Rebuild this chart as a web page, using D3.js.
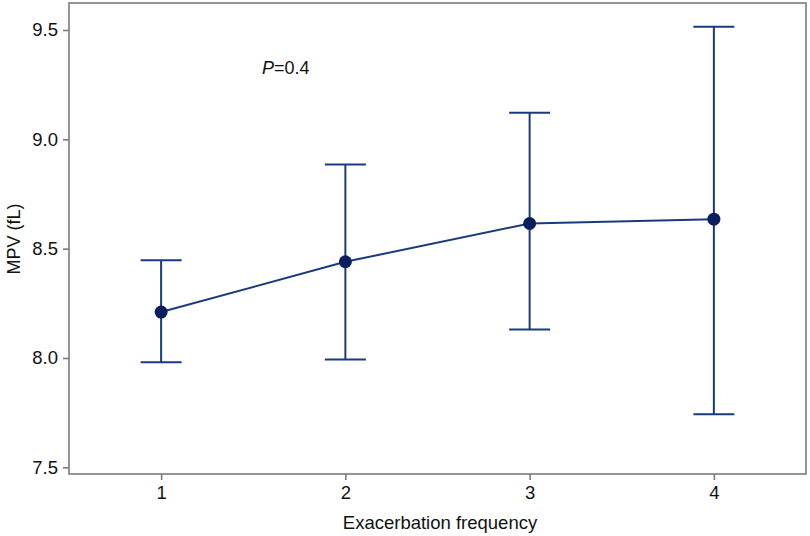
<!DOCTYPE html>
<html><head><meta charset="utf-8">
<script src="https://cdn.jsdelivr.net/npm/d3@7"></script>
<style>body{margin:0;background:#fff}svg{display:block}</style>
</head><body>
<svg id="c" width="810" height="536"></svg>
<script>
const categories = [1, 2, 3, 4];
const means = [8.21, 8.44, 8.615, 8.635];
const lower = [7.98, 7.993, 8.13, 7.743];
const upper = [8.447, 8.885, 9.122, 9.515];
const yTicks = [7.5, 8.0, 8.5, 9.0, 9.5];
const annotation = "0.4";

const svg = d3.select("#c");
const L = 69, R = 806, T = 3, B = 474;
const x = d3.scaleLinear().domain([0.5, 4.5]).range([L, R]);
const y = d3.scaleLinear().domain([7.5, 9.5]).range([467.3, 30]);
const font = "Arial, 'Liberation Sans', sans-serif";
const lineCol = "#1b3a7e", dotCol = "#0b1f5e", axCol = "#7a7a7a";

// frame
svg.append("rect").attr("x", L).attr("y", T).attr("width", R - L).attr("height", B - T)
  .attr("fill", "none").attr("stroke", axCol).attr("stroke-width", 1.6);

// axes
const yAxis = d3.axisLeft(y).tickValues(yTicks).tickFormat(d3.format(".1f")).tickSize(6).tickPadding(5);
const gy = svg.append("g").attr("transform", `translate(${L},0)`).call(yAxis);
const xAxis = d3.axisBottom(x).tickValues(categories).tickFormat(d3.format("d")).tickSize(6).tickPadding(6);
const gx = svg.append("g").attr("transform", `translate(0,${B})`).call(xAxis);
[gy, gx].forEach(g => {
  g.select(".domain").remove();
  g.selectAll(".tick line").attr("stroke", axCol).attr("stroke-width", 1.6);
  g.selectAll(".tick text").attr("fill", "#111").style("font-family", font).style("font-size", "18.5px");
});

const data = categories.map((c, i) => ({c, m: means[i], lo: lower[i], hi: upper[i]}));

// error bars
const eb = svg.append("g").attr("stroke", lineCol).attr("stroke-width", 2).attr("fill", "none");
eb.selectAll("line.v").data(data).join("line").attr("class", "v")
  .attr("x1", d => x(d.c)).attr("x2", d => x(d.c)).attr("y1", d => y(d.lo)).attr("y2", d => y(d.hi));
eb.selectAll("line.t").data(data).join("line").attr("class", "t")
  .attr("x1", d => x(d.c) - 20.5).attr("x2", d => x(d.c) + 20.5).attr("y1", d => y(d.hi)).attr("y2", d => y(d.hi));
eb.selectAll("line.b").data(data).join("line").attr("class", "b")
  .attr("x1", d => x(d.c) - 20.5).attr("x2", d => x(d.c) + 20.5).attr("y1", d => y(d.lo)).attr("y2", d => y(d.lo));

// mean line
svg.append("path").datum(data)
  .attr("d", d3.line().x(d => x(d.c)).y(d => y(d.m)))
  .attr("fill", "none").attr("stroke", lineCol).attr("stroke-width", 2);

// points
svg.selectAll("circle").data(data).join("circle")
  .attr("cx", d => x(d.c)).attr("cy", d => y(d.m)).attr("r", 6.5).attr("fill", dotCol);

// annotation
const ann = svg.append("text").attr("x", 262).attr("y", 74)
  .style("font-family", font).style("font-size", "18px").attr("fill", "#111");
ann.append("tspan").style("font-style", "italic").text("P");
ann.append("tspan").text("=" + annotation);

// axis labels
svg.append("text").attr("x", 440).attr("y", 529).attr("text-anchor", "middle")
  .style("font-family", font).style("font-size", "18.5px").attr("fill", "#111")
  .text("Exacerbation frequency");
svg.append("text").attr("transform", `translate(20,239) rotate(-90)`).attr("text-anchor", "middle")
  .style("font-family", font).style("font-size", "18px").attr("fill", "#111")
  .text("MPV (fL)");
</script>
</body></html>
